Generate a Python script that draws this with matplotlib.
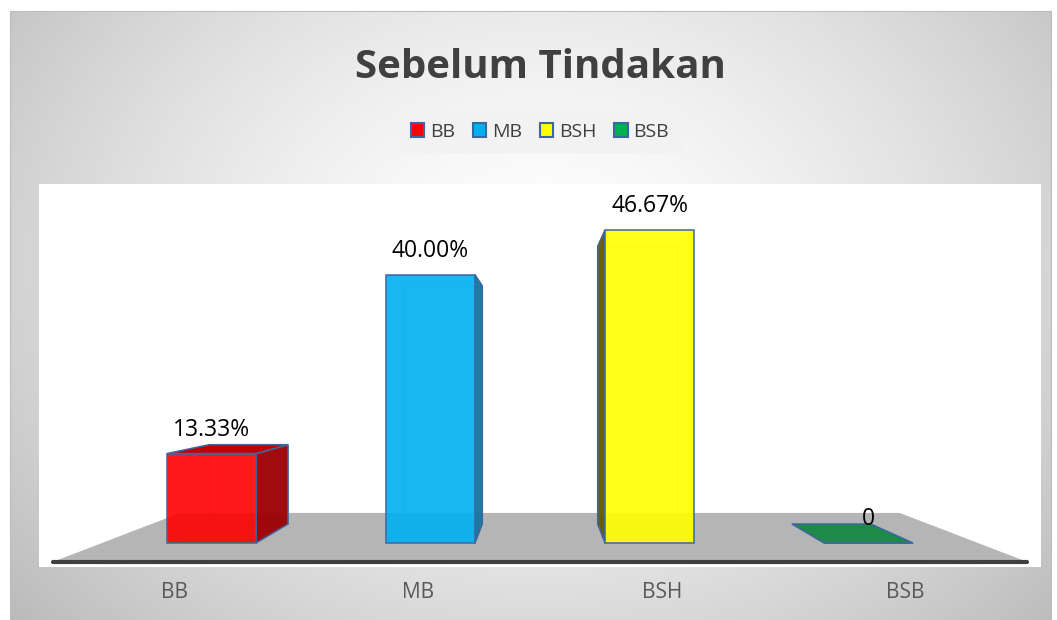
import numpy as np
import matplotlib
matplotlib.use("Agg")
import matplotlib.pyplot as plt
from matplotlib.patches import Polygon, Patch, Rectangle
from matplotlib.colors import to_rgba

plt.rcParams['font.family'] = ['Open Sans', 'DejaVu Sans']

# data
categories = ['BB', 'MB', 'BSH', 'BSB']
values = [13.33, 40.00, 46.67, 0.0]
value_labels = ['13.33%', '40.00%', '46.67%', '0']
title = 'Sebelum Tindakan'

# styles
front_colors = ['#FF0000', '#00B0F0', '#FFFF00', '#00B050']
side_colors = ['#9C0000', '#0E77A0', '#5C5C00', '#1E8A4A']
top_colors = ['#C00000', '#1AA8E0', '#E6E600', '#1E8A4A']
edge = '#3F66A0'

W, H = 1057, 620
fig = plt.figure(figsize=(W / 100, H / 100), dpi=100)
fig.patch.set_facecolor('white')

# chart area with radial gradient
bg = fig.add_axes([0, 0, 1, 1])
bg.set_xlim(0, W)
bg.set_ylim(H, 0)
bg.axis('off')
yy, xx = np.mgrid[11:620, 10:1051].astype(float)
r = np.sqrt(((xx - 540) / 720) ** 2 + ((yy - 260) / 560) ** 2)
t = np.clip(r, 0, 1) ** 1.5
shade = 255 - t * (255 - 0xB8)
img = np.dstack([shade, shade, shade]) / 255
bg.imshow(img, extent=(10, 1051, 620, 11), aspect='auto', interpolation='bilinear')
bg.add_patch(Rectangle((10, 11), 1041, 620, fill=False, edgecolor='#bdbdbd', lw=0.8))

fig.text(540 / W, 1 - 78 / H, title, ha='center', va='baseline',
         fontsize=29, fontweight='bold', color='#404040')

# plot area; data x = category index, data y = percent
px0, px_per_cat = 211.5, 219.0
py0, py_per_pct = 543.0, 6.71
ax = fig.add_axes([39 / W, 1 - 567 / H, (1041 - 39) / W, (567 - 184) / H])
ax.set_xlim((39 - px0) / px_per_cat, (1041 - px0) / px_per_cat)
ax.set_ylim((py0 - 567) / py_per_pct, (py0 - 184) / py_per_pct)
ax.set_facecolor('white')
for sp in ax.spines.values():
    sp.set_visible(False)

# simple perspective toward a vanishing point
xv, vv = 1.5, (py0 - 375) / py_per_pct
s_back, s_floor_front, s_floor_back = 0.887, 1.113, 0.821


def proj(x, v, s):
    return (xv + s * (x - xv), vv + s * (v - vv))


# floor
n = len(categories)
fl = [proj(-0.5, 0, s_floor_front), proj(n - 0.5, 0, s_floor_front),
      proj(n - 0.5, 0, s_floor_back), proj(-0.5, 0, s_floor_back)]
ax.add_patch(Polygon(fl, closed=True, facecolor='#b5b5b5', edgecolor='none', zorder=1))
ax.plot([fl[0][0], fl[1][0]], [fl[0][1], fl[1][1]], color='#3f3f3f', lw=3,
        solid_capstyle='round', clip_on=False, zorder=2)

w = 0.406
for i, v in enumerate(values):
    x0, x1 = i - w / 2, i + w / 2
    # hidden back edges, seen through the transparent front
    b00, b10, b11, b01 = proj(x0, 0, s_back), proj(x1, 0, s_back), proj(x1, v, s_back), proj(x0, v, s_back)
    hx = [b00[0], b10[0], b11[0], b01[0], b00[0]]
    hy = [b00[1], b10[1], b11[1], b01[1], b00[1]]
    ax.plot(hx, hy, color=edge, lw=0.7, alpha=0.3, zorder=3)
    ax.plot([x0, b00[0]], [0, b00[1]], color=edge, lw=0.7, alpha=0.3, zorder=3)
    ax.plot([x1, b10[0]], [0, b10[1]], color=edge, lw=0.7, alpha=0.3, zorder=3)
    # side face
    if i < xv:
        side = [(x1, 0), (x1, v), b11, b10]
    else:
        side = [(x0, 0), (x0, v), b01, b00]
    if v > 0:
        ax.add_patch(Polygon(side, closed=True, facecolor=to_rgba(side_colors[i], 0.95),
                             edgecolor=edge, lw=1.1, zorder=4))
    # top face
    if v < vv:
        top = [(x0, v), (x1, v), b11, b01]
        ax.add_patch(Polygon(top, closed=True, facecolor=top_colors[i],
                             edgecolor=edge, lw=1.1, zorder=4))

ax.bar(range(n), values, width=w, color=[to_rgba(c, 0.9) for c in front_colors],
       edgecolor=edge, linewidth=1.1, zorder=5)

for i, v in enumerate(values):
    ax.text(i, v + 18 / py_per_pct, value_labels[i], ha='center', va='baseline',
            fontsize=16.5, color='black', zorder=6)

tick_pos = [proj(i, 0, s_floor_front)[0] for i in range(n)]
ax.set_xticks(tick_pos, categories)
ax.set_yticks([])
ax.tick_params(axis='x', length=0, pad=11, labelsize=15, labelcolor='#595959')

handles = [Patch(facecolor=c, edgecolor=edge, linewidth=1.5) for c in front_colors]
fig.legend(handles, categories, ncol=4, loc='center', bbox_to_anchor=(540 / W, 1 - 131.5 / H),
           frameon=True, facecolor='#f2f2f2', edgecolor='#f2f2f2', fancybox=False, framealpha=1,
           fontsize=14, handlelength=0.7, handleheight=0.7, handletextpad=0.3,
           columnspacing=0.9, borderpad=0.6, labelcolor='#404040')

fig.savefig('out.png', dpi=100)
